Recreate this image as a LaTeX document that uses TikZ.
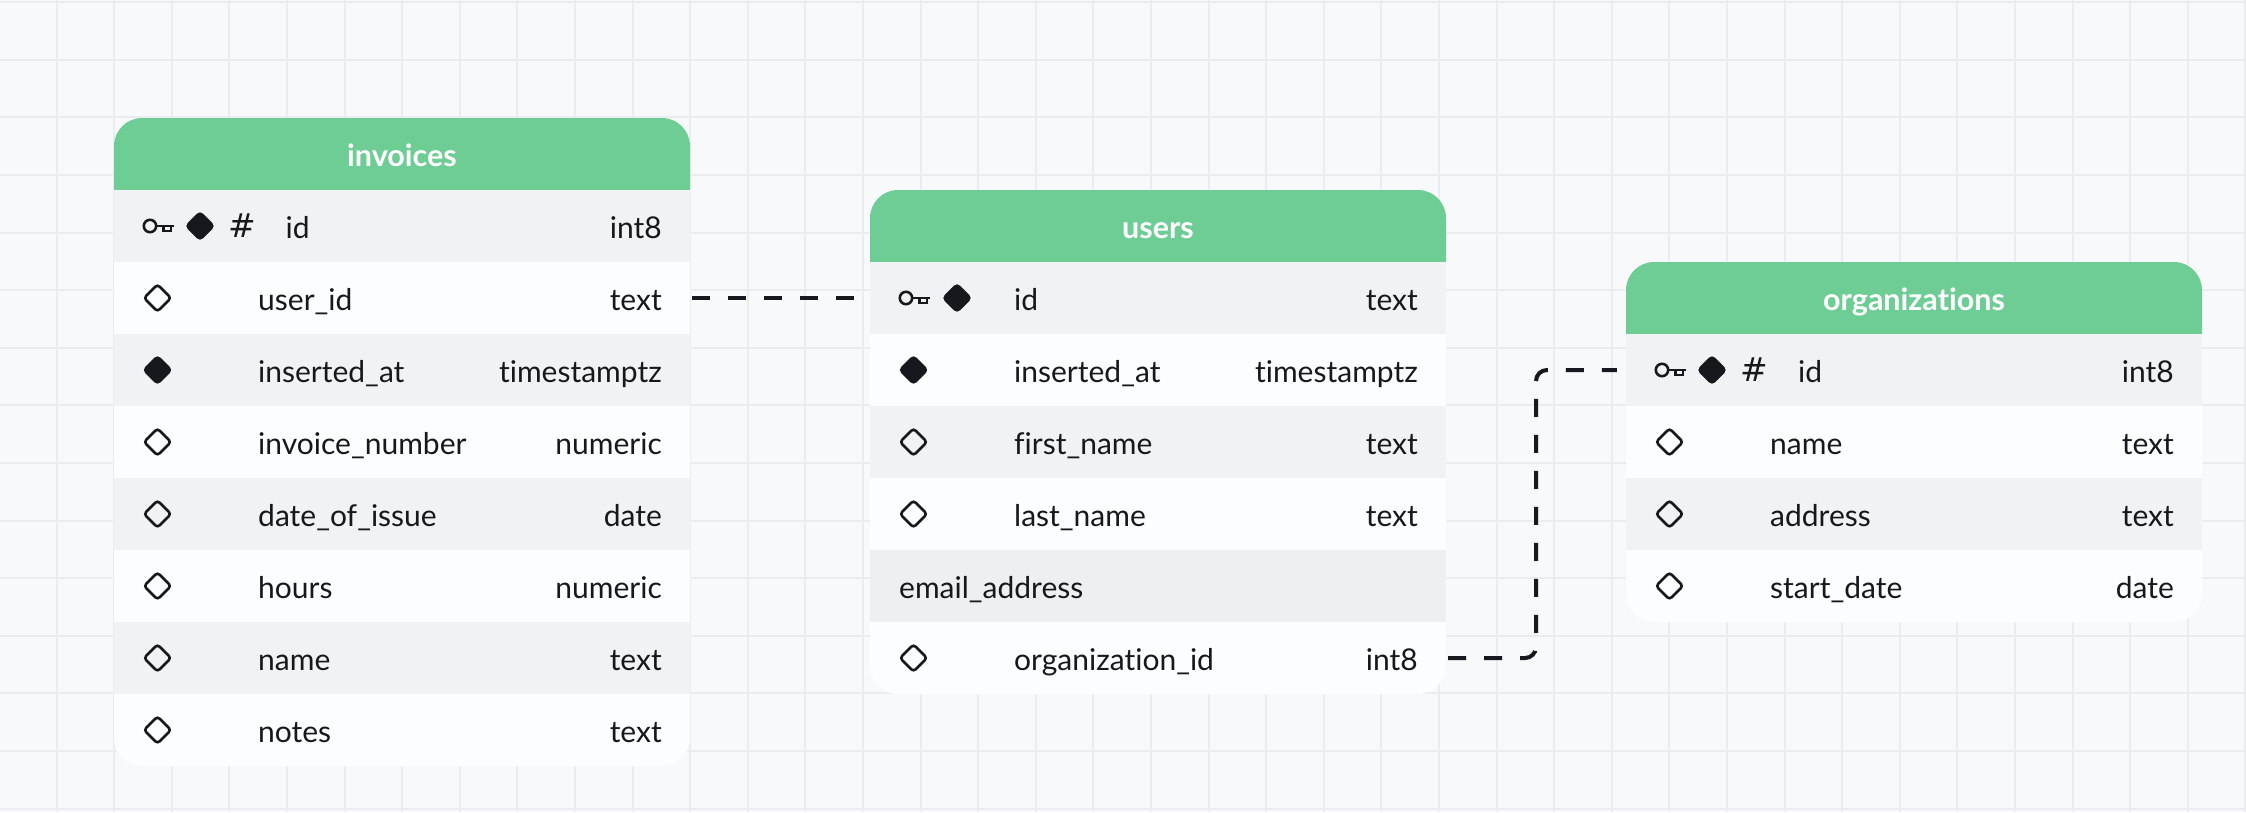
\documentclass[tikz,border=0pt]{standalone}
\usepackage{fontspec}
\setmainfont{Lato}[Ligatures=NoCommon]
\newfontfamily\hashfont{DejaVu Sans}
\usetikzlibrary{shapes.geometric}
\definecolor{canvasbg}{HTML}{F8F9FB}
\definecolor{gridgray}{HTML}{EBECF0}
\definecolor{headgreen}{HTML}{6ECD95}
\definecolor{rowwhite}{HTML}{FCFDFE}
\definecolor{rowgray}{HTML}{F1F2F4}
\definecolor{rowdark}{HTML}{EEEFF1}
\definecolor{inkblack}{HTML}{15191D}
\tikzset{
  fieldtext/.style={font=\fontsize{30}{34}\selectfont, text=inkblack, inner sep=0pt, text height=27pt, text depth=2.6pt},
  fieldname/.style={fieldtext, anchor=west},
  fieldtype/.style={fieldtext, anchor=east},
  tabletitle/.style={font=\fontsize{30.5}{34}\bfseries\selectfont, text=white, inner sep=0pt, text height=28pt, text depth=3pt},
  rowshade/.style={fill=rowgray, inner sep=0pt, minimum width=576pt, minimum height=72pt},
  rowplain/.style={inner sep=0pt, minimum width=576pt, minimum height=72pt},
  rowhover/.style={fill=rowdark, inner sep=0pt, minimum width=576pt, minimum height=72pt},
  openmark/.style={diamond, aspect=1, draw=inkblack, line width=2.6pt, rounded corners=3pt, inner sep=0pt, minimum size=28pt},
  fullmark/.style={diamond, aspect=1, draw=inkblack, fill=inkblack, line width=2.6pt, rounded corners=3pt, inner sep=0pt, minimum size=28pt},
  hashmark/.style={font=\fontsize{33}{36}\hashfont, text=inkblack, inner sep=0pt},
  reflink/.style={draw=inkblack, line width=4pt, dash pattern=on 18pt off 18pt},
  keyicon/.pic={
    \draw[inkblack, line width=2.6pt] (0,0) circle (6.2pt);
    \draw[inkblack, line width=2.6pt] (6.2,0) -- (24,0);
    \draw[inkblack, line width=2.6pt] (13.5,0) -- (13.5,5) -- (21,5) -- (21,0);
  }
}
\begin{document}
\begin{tikzpicture}[x=1pt,y=-1pt]
        \useasboundingbox (0,0) rectangle (2246,812);
        \fill[canvasbg] (0,0) rectangle (2246,812);
        % Background grid
        \foreach \k in {0,...,39} {
            \draw[gridgray, line width=2pt] ({57.6*\k-1},0) -- ({57.6*\k-1},812);
        }
        \foreach \k in {0,...,14} {
            \draw[gridgray, line width=2pt] (0,{57.6*\k+2.2}) -- (2246,{57.6*\k+2.2});
        }

        % invoices
        \begin{scope}[shift={(114,118)}]
            \fill[rowwhite, rounded corners=28pt] (0,0) rectangle (576,648);
            \fill[headgreen] (0,72) [rounded corners=28pt] -- (0,0) -- (576,0) [sharp corners] -- (576,72) -- cycle;
            \node[tabletitle] (invoices) at (288,36) {invoices};
            \node[rowshade] (inv1) at (288,108) {};
            \node[rowplain] (inv2) at (288,180) {};
            \node[rowshade] (inv3) at (288,252) {};
            \node[rowplain] (inv4) at (288,324) {};
            \node[rowshade] (inv5) at (288,396) {};
            \node[rowplain] (inv6) at (288,468) {};
            \node[rowshade] (inv7) at (288,540) {};
            \node[rowplain] (inv8) at (288,612) {};
            \pic at (36,108) {keyicon};
            \node[fullmark] (invm1) at (86,108) {};
            \node[hashmark] (invh1) at (128.5,108) {\#};
            \node[openmark] (invm2) at (43.5,180) {};
            \node[fullmark] (invm3) at (43.5,252) {};
            \node[openmark] (invm4) at (43.5,324) {};
            \node[openmark] (invm5) at (43.5,396) {};
            \node[openmark] (invm6) at (43.5,468) {};
            \node[openmark] (invm7) at (43.5,540) {};
            \node[openmark] (invm8) at (43.5,612) {};
            \node[fieldname] (invn1) at (171.5,108) {id};
            \node[fieldname] (invn2) at (144,180) {user\_id};
            \node[fieldname] (invn3) at (144,252) {inserted\_at};
            \node[fieldname] (invn4) at (144,324) {invoice\_number};
            \node[fieldname] (invn5) at (144,396) {date\_of\_issue};
            \node[fieldname] (invn6) at (144,468) {hours};
            \node[fieldname] (invn7) at (144,540) {name};
            \node[fieldname] (invn8) at (144,612) {notes};
            \node[fieldtype] (invt1) at (548,108) {int8};
            \node[fieldtype] (invt2) at (548,180) {text};
            \node[fieldtype] (invt3) at (548,252) {timestamptz};
            \node[fieldtype] (invt4) at (548,324) {numeric};
            \node[fieldtype] (invt5) at (548,396) {date};
            \node[fieldtype] (invt6) at (548,468) {numeric};
            \node[fieldtype] (invt7) at (548,540) {text};
            \node[fieldtype] (invt8) at (548,612) {text};
        \end{scope}

        % users
        \begin{scope}[shift={(870,190)}]
            \fill[rowwhite, rounded corners=28pt] (0,0) rectangle (576,504);
            \fill[headgreen] (0,72) [rounded corners=28pt] -- (0,0) -- (576,0) [sharp corners] -- (576,72) -- cycle;
            \node[tabletitle] (users) at (288,36) {users};
            \node[rowshade] (usr1) at (288,108) {};
            \node[rowplain] (usr2) at (288,180) {};
            \node[rowshade] (usr3) at (288,252) {};
            \node[rowplain] (usr4) at (288,324) {};
            \node[rowhover] (usr5) at (288,396) {};
            \node[rowplain] (usr6) at (288,468) {};
            \pic at (36,108) {keyicon};
            \node[fullmark] (usrm1) at (87,108) {};
            \node[fullmark] (usrm2) at (43.5,180) {};
            \node[openmark] (usrm3) at (43.5,252) {};
            \node[openmark] (usrm4) at (43.5,324) {};
            \node[openmark] (usrm6) at (43.5,468) {};
            \node[fieldname] (usrn1) at (144,108) {id};
            \node[fieldname] (usrn2) at (144,180) {inserted\_at};
            \node[fieldname] (usrn3) at (144,252) {first\_name};
            \node[fieldname] (usrn4) at (144,324) {last\_name};
            \node[fieldname] (usrn5) at (29,396) {email\_address};
            \node[fieldname] (usrn6) at (144,468) {organization\_id};
            \node[fieldtype] (usrt1) at (548,108) {text};
            \node[fieldtype] (usrt2) at (548,180) {timestamptz};
            \node[fieldtype] (usrt3) at (548,252) {text};
            \node[fieldtype] (usrt4) at (548,324) {text};
            \node[fieldtype] (usrt6) at (548,468) {int8};
        \end{scope}

        % organizations
        \begin{scope}[shift={(1626,262)}]
            \fill[rowwhite, rounded corners=28pt] (0,0) rectangle (576,360);
            \fill[headgreen] (0,72) [rounded corners=28pt] -- (0,0) -- (576,0) [sharp corners] -- (576,72) -- cycle;
            \node[tabletitle] (organizations) at (288,36) {organizations};
            \node[rowshade] (org1) at (288,108) {};
            \node[rowplain] (org2) at (288,180) {};
            \node[rowshade] (org3) at (288,252) {};
            \node[rowplain] (org4) at (288,324) {};
            \pic at (36,108) {keyicon};
            \node[fullmark] (orgm1) at (86,108) {};
            \node[hashmark] (orgh1) at (128.5,108) {\#};
            \node[openmark] (orgm2) at (43.5,180) {};
            \node[openmark] (orgm3) at (43.5,252) {};
            \node[openmark] (orgm4) at (43.5,324) {};
            \node[fieldname] (orgn1) at (172,108) {id};
            \node[fieldname] (orgn2) at (144,180) {name};
            \node[fieldname] (orgn3) at (144,252) {address};
            \node[fieldname] (orgn4) at (144,324) {start\_date};
            \node[fieldtype] (orgt1) at (548,108) {int8};
            \node[fieldtype] (orgt2) at (548,180) {text};
            \node[fieldtype] (orgt3) at (548,252) {text};
            \node[fieldtype] (orgt4) at (548,324) {date};
        \end{scope}

        % Links between the tables
        \draw[reflink, shorten <=2pt, shorten >=15pt] (inv2.east) -- (usr1.west);
        \coordinate (bend) at (1536,370);
        \draw[reflink, rounded corners=11pt, shorten <=2pt, shorten >=9pt] (usr6.east) -| (bend) -- (org1.west);
    \end{tikzpicture}
\end{document}
